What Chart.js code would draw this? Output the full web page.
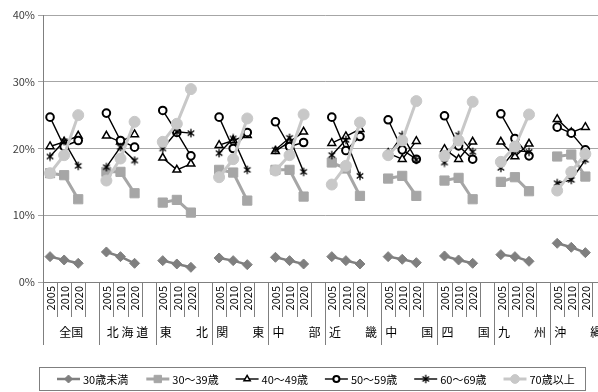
<!DOCTYPE html>
<html>
<head>
<meta charset="utf-8">
<style>
html,body{margin:0;padding:0;background:#fff;overflow:hidden;}
#wrap{position:relative;width:614px;height:392px;}
</style>
<script src="https://cdn.jsdelivr.net/npm/chart.js@4.4.1/dist/chart.umd.min.js"></script>
</head>
<body>
<div id="wrap"><canvas id="c" width="614" height="392"></canvas></div>
<script>
// Regions (x-axis groups) and survey years inside each group
const regions = ['全国', '北 海 道', '東　　北', '関　　東', '中　　部', '近　　畿', '中　　国', '四　　国', '九　　州', '沖　　縄'];
const years = ['2005', '2010', '2020'];
const seriesNames = ['30歳未満', '30〜39歳', '40〜49歳', '50〜59歳', '60〜69歳', '70歳以上'];

// Share (%) by age band, three years per region in region order
const under30 = [3.8, 3.3, 2.8,  4.5, 3.8, 2.8,  3.2, 2.7, 2.2,  3.6, 3.2, 2.6,  3.7, 3.2, 2.7,
                 3.8, 3.2, 2.7,  3.8, 3.4, 2.9,  3.9, 3.3, 2.8,  4.1, 3.8, 3.1,  5.8, 5.2, 4.4];
const age30s = [16.3, 16.0, 12.4,  16.5, 16.5, 13.3,  11.9, 12.3, 10.4,  16.8, 16.4, 12.2,  16.8, 16.8, 12.8,
                17.9, 17.0, 12.9,  15.5, 15.9, 12.9,  15.2, 15.6, 12.4,  15.0, 15.7, 13.6,  18.8, 19.1, 15.8];
const age40s = [20.3, 21.0, 21.9,  21.9, 21.0, 22.1,  18.6, 16.8, 17.7,  20.5, 21.2, 22.0,  19.6, 21.0, 22.5,
                20.8, 21.8, 22.9,  19.3, 18.4, 21.1,  19.9, 18.4, 21.0,  21.0, 18.8, 20.7,  24.4, 22.4, 23.2];
const age50s = [24.7, 20.3, 21.2,  25.3, 21.2, 20.2,  25.7, 22.4, 18.9,  24.7, 20.0, 22.4,  24.0, 20.3, 20.9,
                24.7, 19.7, 21.8,  24.3, 19.8, 18.4,  24.9, 20.4, 18.4,  25.2, 21.5, 18.9,  23.2, 22.3, 19.8];
const age60s = [18.8, 21.1, 17.4,  17.2, 20.2, 18.2,  20.0, 22.5, 22.3,  19.3, 21.5, 16.8,  19.8, 21.6, 16.5,
                19.0, 21.3, 15.9,  18.9, 22.0, 18.3,  17.9, 22.0, 19.5,  17.1, 19.7, 19.5,  14.8, 15.3, 18.3];
const age70plus = [16.3, 19.0, 25.0,  15.2, 18.5, 24.0,  21.0, 23.7, 28.9,  15.7, 18.4, 24.5,  16.7, 19.0, 25.1,
                   14.6, 17.4, 23.9,  19.0, 21.2, 27.1,  18.9, 21.2, 27.0,  18.0, 20.3, 25.1,  13.7, 16.5, 19.2];

const FONT = "'Noto Sans CJK JP', 'Noto Sans', sans-serif";

// 4 slots per region: three years plus an empty spacer slot
const slotLabels = [];
regions.forEach(() => { years.forEach(y => slotLabels.push(y)); slotLabels.push(''); });

function toSlots(values) {
  const out = [];
  regions.forEach((r, i) => {
    for (let k = 0; k < years.length; k++) out.push(values[i * years.length + k]);
    out.push(null);
  });
  return out;
}

// Asterisk marker: diagonal cross with a vertical stroke
function asteriskMarker(size) {
  const c = document.createElement('canvas');
  c.width = c.height = size;
  const g = c.getContext('2d');
  const m = size / 2, r = size / 2 - 0.8;
  g.strokeStyle = '#000';
  g.lineWidth = 1.3;
  g.beginPath();
  g.moveTo(m - r * 0.78, m - r * 0.62); g.lineTo(m + r * 0.78, m + r * 0.62);
  g.moveTo(m + r * 0.78, m - r * 0.62); g.lineTo(m - r * 0.78, m + r * 0.62);
  g.moveTo(m, m - r); g.lineTo(m, m + r);
  g.stroke();
  return c;
}

const styles = [
  { color: '#7f7f7f', fill: '#7f7f7f', width: 2.5, point: 'rectRot', radius: 5, bw: 1 },
  { color: '#a6a6a6', fill: '#a6a6a6', width: 3, point: 'rect', radius: 6.5, bw: 1 },
  { color: '#000000', fill: '#ffffff', width: 1.4, point: 'triangle', radius: 4.5, bw: 1.5 },
  { color: '#000000', fill: '#ffffff', width: 1.4, point: 'circle', radius: 3.8, bw: 2 },
  { color: '#000000', fill: '#000000', width: 1.4, point: asteriskMarker(10), radius: 5, bw: 1 },
  { color: '#c8c8c8', fill: '#c8c8c8', width: 3, point: 'circle', radius: 5.5, bw: 1 }
];
const seriesValues = [under30, age30s, age40s, age50s, age60s, age70plus];

const datasets = seriesValues.map((vals, i) => ({
  label: seriesNames[i],
  data: toSlots(vals),
  borderColor: styles[i].color,
  backgroundColor: styles[i].color,
  borderWidth: styles[i].width,
  pointStyle: styles[i].point,
  pointRadius: styles[i].radius,
  pointBackgroundColor: styles[i].fill,
  pointBorderColor: styles[i].color,
  pointBorderWidth: styles[i].bw,
  tension: 0,
  spanGaps: false,
  order: seriesValues.length - 1 - i
}));

// Two-level category axis: rotated years, then region names with separators
const categoryAxis = {
  id: 'categoryAxis',
  afterDraw(chart) {
    const { ctx, chartArea, scales: { x } } = chart;
    const y0 = chartArea.bottom;
    const half = (x.getPixelForValue(1) - x.getPixelForValue(0)) / 2;
    ctx.save();
    ctx.strokeStyle = '#7f7f7f';
    ctx.lineWidth = 1;
    for (let i = 0; i <= slotLabels.length; i++) {
      const bx = Math.round(x.getPixelForValue(Math.min(i, slotLabels.length - 1)) + (i === slotLabels.length ? half : -half)) + 0.5;
      ctx.beginPath();
      ctx.moveTo(bx, y0);
      ctx.lineTo(bx, y0 + (i % 4 === 0 ? 63 : 35));
      ctx.stroke();
    }
    ctx.fillStyle = '#000';
    ctx.font = '11px ' + FONT;
    ctx.textAlign = 'right';
    ctx.textBaseline = 'middle';
    slotLabels.forEach((lab, i) => {
      if (!lab) return;
      ctx.save();
      ctx.translate(x.getPixelForValue(i) + 0.5, y0 + 4);
      ctx.rotate(-Math.PI / 2);
      ctx.fillText(lab, 0, 0);
      ctx.restore();
    });
    ctx.font = '12px ' + FONT;
    ctx.textAlign = 'center';
    regions.forEach((r, g) => {
      const cx = x.getPixelForValue(g * 4 + 1) + half;
      ctx.fillText(r, cx, y0 + 50);
    });
    ctx.restore();
  }
};

// Boxed legend with line-and-marker samples
const boxLegend = {
  id: 'boxLegend',
  afterDraw(chart) {
    const { ctx } = chart;
    const H = Chart.helpers;
    ctx.save();
    ctx.strokeStyle = '#7f7f7f';
    ctx.lineWidth = 1;
    ctx.strokeRect(39.5, 367.5, 546, 23);
    const cy = 379;
    ctx.font = '11px ' + FONT;
    ctx.textAlign = 'left';
    ctx.textBaseline = 'middle';
    seriesNames.forEach((name, i) => {
      const s = styles[i];
      const lx = 57 + i * 89.3;
      ctx.strokeStyle = s.color;
      ctx.lineWidth = s.width;
      ctx.beginPath();
      ctx.moveTo(lx, cy); ctx.lineTo(lx + 23, cy);
      ctx.stroke();
      ctx.fillStyle = s.fill;
      ctx.strokeStyle = s.color;
      ctx.lineWidth = s.bw;
      H.drawPoint(ctx, { pointStyle: s.point, radius: s.radius * 0.8, borderWidth: s.bw, rotation: 0 }, lx + 11.5, cy);
      ctx.fillStyle = '#000';
      ctx.fillText(name, lx + 26, cy + 0.5);
    });
    ctx.restore();
  }
};

new Chart(document.getElementById('c'), {
  type: 'line',
  data: { labels: slotLabels, datasets },
  options: {
    responsive: false,
    animation: false,
    devicePixelRatio: 1,
    layout: { padding: { top: 15, right: 0, left: 0, bottom: 0 } },
    plugins: { legend: { display: false }, tooltip: { enabled: false } },
    scales: {
      x: {
        type: 'category',
        offset: true,
        grid: { display: false },
        ticks: { display: false },
        border: { display: true, color: '#7f7f7f', width: 1 },
        afterFit(s) { s.height = 110; }
      },
      y: {
        min: 0,
        max: 40,
        ticks: {
          stepSize: 10,
          callback: v => v + '%',
          color: '#404040',
          font: { size: 11, family: FONT },
          padding: 3
        },
        grid: { color: '#a6a6a6', tickLength: 5 },
        border: { color: '#7f7f7f', width: 1 },
        afterFit(s) { s.width = 43; }
      }
    }
  },
  plugins: [categoryAxis, boxLegend]
});
</script>
</body>
</html>
